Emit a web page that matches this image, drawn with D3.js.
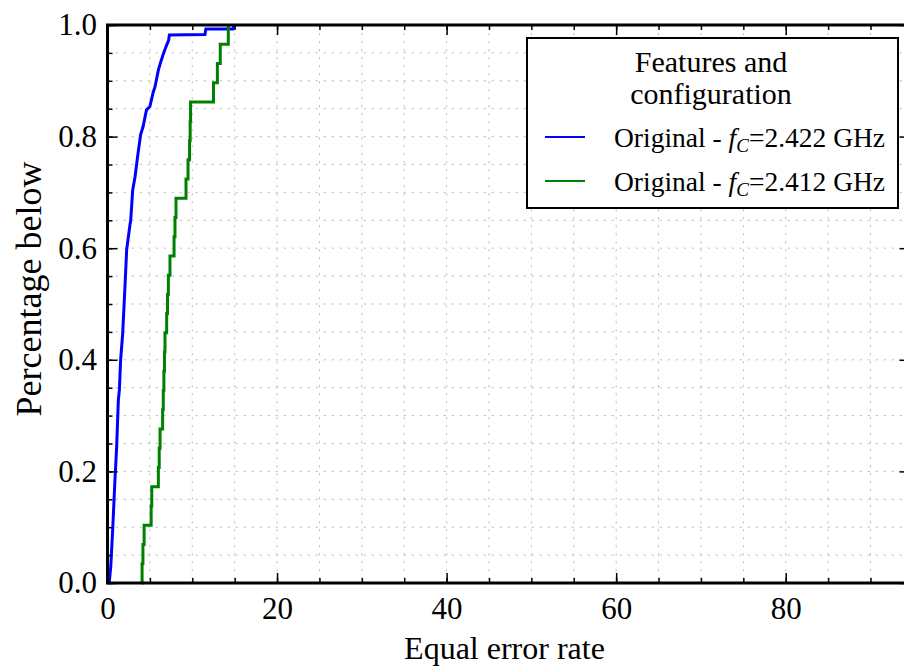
<!DOCTYPE html>
<html><head><meta charset="utf-8">
<script src="https://cdn.jsdelivr.net/npm/d3@7"></script>
<style>
body{margin:0;background:#fff}
svg{display:block}
text{font-family:"Liberation Serif","Times New Roman",serif;fill:#000}
</style>
</head><body>
<svg id="chart" width="904" height="670"></svg>
<script>
// ---- data ----
const xMajorTicks = [0, 20, 40, 60, 80];
const yMajorTicks = [0.0, 0.2, 0.4, 0.6, 0.8, 1.0];
const xLabel = "Equal error rate";
const yLabel = "Percentage below";
const legendTitle = ["Features and", "configuration"];
const seriesNames = ["Original - ", "Original - "];
const seriesFreqs = ["2.422", "2.412"];
const seriesColors = ["#0000ff", "#008000"];

// blue: fC = 2.422 GHz (cumulative curve)
const blueX = [0.2, 0.38, 0.61, 0.88, 1.08, 1.28, 1.4, 1.55, 1.79, 2.06, 2.26, 2.65, 2.74, 2.97, 3.25, 3.6, 3.9, 4.2, 4.6, 5.0, 5.4, 5.6, 6.0, 6.2, 6.6, 7.0, 7.2, 7.3, 11.5, 11.6, 14.8, 14.9];
const blueY = [0.0, 0.029, 0.095, 0.185, 0.244, 0.328, 0.346, 0.40, 0.447, 0.531, 0.597, 0.642, 0.65, 0.704, 0.728, 0.77, 0.803, 0.818, 0.848, 0.854, 0.88, 0.889, 0.919, 0.93, 0.949, 0.965, 0.972, 0.982, 0.983, 0.993, 0.993, 1.0];

// green: fC = 2.412 GHz (sorted equal error rates, empirical CDF)
const greenEER = [4.02, 4.08, 4.18, 4.32, 5.15, 5.22, 6.00, 6.10, 6.20, 6.50, 6.58, 6.65, 6.72, 6.78, 6.98, 7.08, 7.18, 7.37, 7.85, 7.96, 8.08, 9.26, 9.50, 9.68, 9.75, 9.80, 12.50, 12.96, 13.30, 14.25];

// ---- layout ----
const FONT = "'Liberation Serif', 'Times New Roman', serif";
const L = 107.5, T = 25, B = 583, R = 909.5;
const svg = d3.select("#chart");
const x = d3.scaleLinear().domain([0, 94.6]).range([L, R]);
const y = d3.scaleLinear().domain([0, 1]).range([B, T]);

const xMinor = d3.range(0, 94.6, 5);
const yMinor = d3.range(0, 1.0001, 0.05);

// grid
const grid = svg.append("g").attr("stroke", "#c4c4c4").attr("stroke-width", 1).attr("stroke-dasharray", "2.5,5.5");
grid.selectAll(".gx").data(xMinor).join("line")
  .attr("x1", d => x(d)).attr("x2", d => x(d)).attr("y1", T).attr("y2", B);
grid.selectAll(".gy").data(yMinor).join("line")
  .attr("x1", L).attr("x2", R).attr("y1", d => y(d)).attr("y2", d => y(d));

// curves
const bluePts = blueX.map((v, i) => [v, blueY[i]]);
const greenPts = greenEER.map((v, i) => [v, i / (greenEER.length - 1)]);
svg.append("path").datum(bluePts)
  .attr("fill", "none").attr("stroke", seriesColors[0]).attr("stroke-width", 3)
  .attr("d", d3.line().x(d => x(d[0])).y(d => y(d[1])));
svg.append("path").datum(greenPts)
  .attr("fill", "none").attr("stroke", seriesColors[1]).attr("stroke-width", 3)
  .attr("d", d3.line().curve(d3.curveStepAfter).x(d => x(d[0])).y(d => y(d[1])));

// axes (ticks inward on all sides)
function styleAxis(g) {
  g.select(".domain").remove();
  g.attr("font-family", null).attr("font-size", null);
  g.selectAll(".tick line").attr("stroke", "#000").attr("stroke-width", 1.5);
  g.selectAll("text").style("font-family", FONT).style("font-size", "31px").attr("fill", "#000");
}
svg.append("g").attr("transform", `translate(0,${B})`)
  .call(d3.axisBottom(x).tickValues(xMajorTicks).tickFormat(d3.format("d")).tickSize(-10).tickPadding(14)).call(styleAxis);
svg.append("g").attr("transform", `translate(0,${B})`)
  .call(d3.axisBottom(x).tickValues(xMinor).tickFormat("").tickSize(-5)).call(styleAxis);
svg.append("g").attr("transform", `translate(0,${T})`)
  .call(d3.axisTop(x).tickValues(xMajorTicks).tickFormat("").tickSize(-10)).call(styleAxis);
svg.append("g").attr("transform", `translate(0,${T})`)
  .call(d3.axisTop(x).tickValues(xMinor).tickFormat("").tickSize(-5)).call(styleAxis);
svg.append("g").attr("transform", `translate(${L},0)`)
  .call(d3.axisLeft(y).tickValues(yMajorTicks).tickFormat(d3.format(".1f")).tickSize(-10).tickPadding(10.5)).call(styleAxis);
svg.append("g").attr("transform", `translate(${L},0)`)
  .call(d3.axisLeft(y).tickValues(yMinor).tickFormat("").tickSize(-5)).call(styleAxis);
svg.append("g").attr("transform", `translate(${R},0)`)
  .call(d3.axisRight(y).tickValues(yMajorTicks).tickFormat("").tickSize(-10)).call(styleAxis);
svg.append("g").attr("transform", `translate(${R},0)`)
  .call(d3.axisRight(y).tickValues(yMinor).tickFormat("").tickSize(-5)).call(styleAxis);

// spines
svg.append("rect").attr("x", L).attr("y", T).attr("width", R - L).attr("height", B - T)
  .attr("fill", "none").attr("stroke", "#000").attr("stroke-width", 3);

// axis labels
svg.append("text").attr("x", (L + R) / 2 - 4).attr("y", 659).attr("text-anchor", "middle")
  .style("font-family", FONT).style("font-size", "32px").text(xLabel);
svg.append("text").attr("transform", "translate(41,289) rotate(-90)").attr("text-anchor", "middle")
  .style("font-family", FONT).style("font-size", "36px").text(yLabel);

// legend
const lg = svg.append("g");
lg.append("rect").attr("x", 527).attr("y", 38).attr("width", 371).attr("height", 170)
  .attr("fill", "#fff").attr("stroke", "#000").attr("stroke-width", 2);
legendTitle.forEach((t, i) => {
  lg.append("text").attr("x", 711).attr("y", 72 + i * 32).attr("text-anchor", "middle")
    .style("font-family", FONT).style("font-size", "30px").text(t);
});
seriesNames.forEach((n, i) => {
  const yy = 137 + i * 44;
  lg.append("line").attr("x1", 545).attr("x2", 585).attr("y1", yy).attr("y2", yy)
    .attr("stroke", seriesColors[i]).attr("stroke-width", 2);
  const t = lg.append("text").attr("x", 614).attr("y", yy + 9.5)
    .style("font-family", FONT).style("font-size", "27.5px");
  t.append("tspan").text(n);
  t.append("tspan").attr("font-style", "italic").text("f");
  t.append("tspan").attr("font-style", "italic").style("font-size", "19px").attr("dy", 5).text("C");
  t.append("tspan").attr("dy", -5).text("=" + seriesFreqs[i] + " GHz");
});
</script>
</body></html>
